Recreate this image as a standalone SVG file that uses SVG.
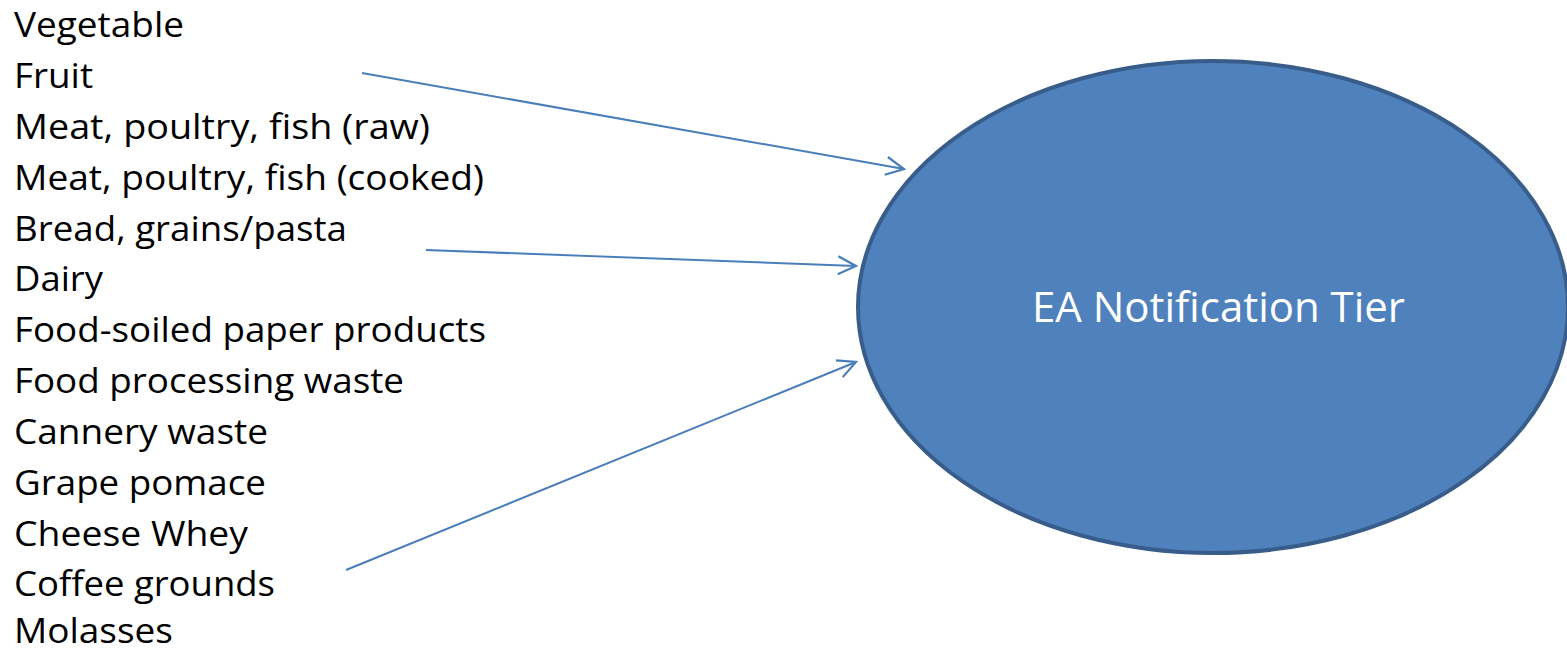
<svg xmlns="http://www.w3.org/2000/svg" width="1567" height="653" viewBox="0 0 1567 653">
<style>
.item{font-family:"Open Sans","Liberation Sans",Arial,sans-serif;font-size:34px;fill:#000}
.lbl{font-family:"Open Sans","Liberation Sans",Arial,sans-serif;font-size:42px;fill:#fff}
.conn{stroke:#4A7EBB;stroke-width:2;fill:none}
</style>
<defs>
<marker id="arr" markerUnits="userSpaceOnUse" markerWidth="24" markerHeight="24" refX="20" refY="10" orient="auto" viewBox="0 0 24 20">
<path d="M2,1 L20,10 L2,19" fill="none" stroke="#4A7EBB" stroke-width="2.2"/>
</marker>
</defs>
<rect width="1567" height="653" fill="#fff"/>
<g id="list">
<text class="item" x="14" y="37" textLength="170" lengthAdjust="spacingAndGlyphs">Vegetable</text>
<text class="item" x="14" y="88" textLength="79" lengthAdjust="spacingAndGlyphs">Fruit</text>
<text class="item" x="14" y="139" textLength="416" lengthAdjust="spacingAndGlyphs">Meat, poultry, fish (raw)</text>
<text class="item" x="14" y="190" textLength="470" lengthAdjust="spacingAndGlyphs">Meat, poultry, fish (cooked)</text>
<text class="item" x="14" y="241" textLength="333" lengthAdjust="spacingAndGlyphs">Bread, grains/pasta</text>
<text class="item" x="14" y="291" textLength="89" lengthAdjust="spacingAndGlyphs">Dairy</text>
<text class="item" x="14" y="342" textLength="472" lengthAdjust="spacingAndGlyphs">Food-soiled paper products</text>
<text class="item" x="14" y="393" textLength="390" lengthAdjust="spacingAndGlyphs">Food processing waste</text>
<text class="item" x="14" y="444" textLength="254" lengthAdjust="spacingAndGlyphs">Cannery waste</text>
<text class="item" x="14" y="495" textLength="252" lengthAdjust="spacingAndGlyphs">Grape pomace</text>
<text class="item" x="14" y="546" textLength="234" lengthAdjust="spacingAndGlyphs">Cheese Whey</text>
<text class="item" x="14" y="596" textLength="261" lengthAdjust="spacingAndGlyphs">Coffee grounds</text>
<text class="item" x="14" y="643" textLength="159" lengthAdjust="spacingAndGlyphs">Molasses</text>
</g>
<g id="tier">
<ellipse cx="1213" cy="307" rx="355" ry="246" fill="#4F81BD" stroke="#385D8A" stroke-width="4"/>
<text class="lbl" x="1032" y="322" textLength="373" lengthAdjust="spacingAndGlyphs">EA Notification Tier</text>
</g>
<g id="connectors">
<line class="conn" x1="362" y1="73" x2="904" y2="169" marker-end="url(#arr)"/>
<line class="conn" x1="426" y1="250" x2="856" y2="266" marker-end="url(#arr)"/>
<line class="conn" x1="346" y1="570" x2="856" y2="362" marker-end="url(#arr)"/>
</g>
</svg>
